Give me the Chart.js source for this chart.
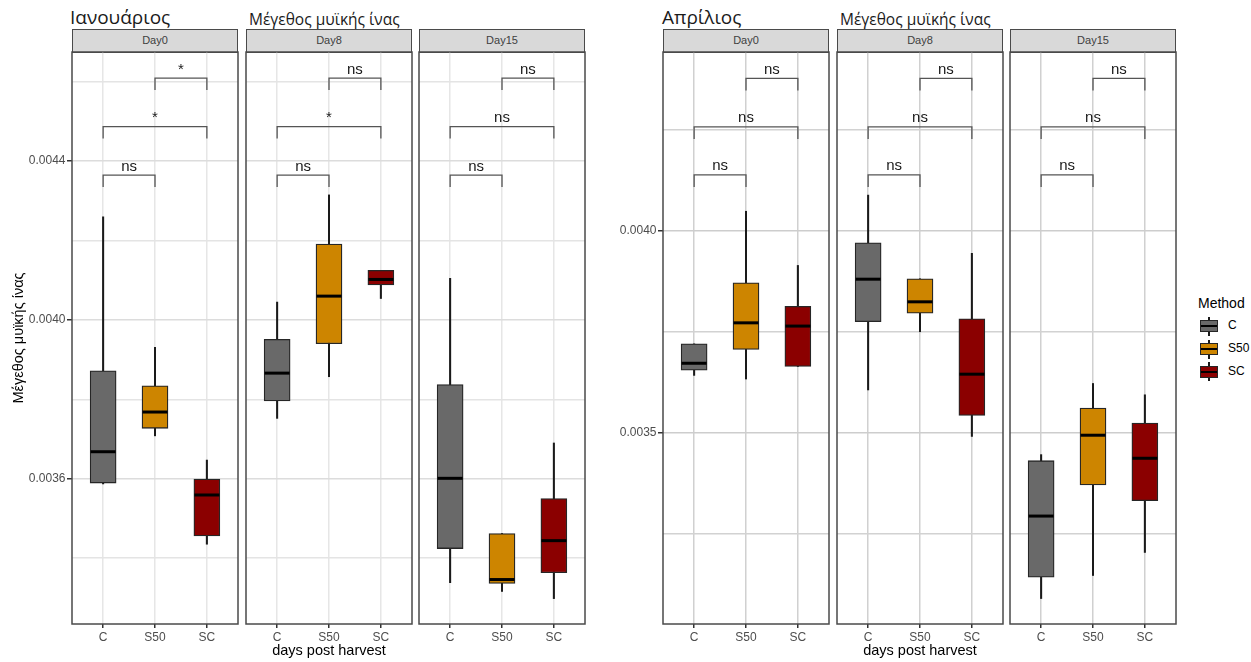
<!DOCTYPE html>
<html>
<head>
<meta charset="utf-8">
<script src="https://cdn.jsdelivr.net/npm/chart.js@4.4.1/dist/chart.umd.min.js"></script>
<style>
  html, body { margin: 0; padding: 0; background: #fff; }
  #wrap { position: relative; width: 1251px; height: 662px; overflow: hidden; background: #fff; }
  .abs { position: absolute; white-space: nowrap; }
  .month { font-family: 'Open Sans', 'Noto Sans', sans-serif; font-size: 19px; color: #1a1a1a; line-height: normal; }
  .sub { font-family: 'Open Sans', 'Noto Sans', sans-serif; font-size: 15.5px; color: #1a1a1a; line-height: normal; }
  .strip { background: #d9d9d9; border: 1.5px solid #4a4a4a; box-sizing: border-box; height: 24px; width: 166px;
           font-family: 'Liberation Sans', Arial, sans-serif; font-weight: normal; font-size: 11px; color: #404040; text-align: center; line-height: 21px; }
  canvas { position: absolute; }
  .legTitle { font-family: 'Liberation Sans', Arial, sans-serif; font-size: 14px; line-height: 14px; color: #000; }
  .legLab { font-family: 'Liberation Sans', Arial, sans-serif; font-size: 12px; line-height: 12px; color: #000; }
  .keyWhisk { position: absolute; width: 1.2px; background: #1a1a1a; }
  .keyBox { position: absolute; width: 18px; height: 12px; box-sizing: border-box; border: 1.3px solid #262626; }
  .keyMed { position: absolute; left: 0; right: 0; top: 4px; height: 2px; background: #000; }
</style>
</head>
<body>
<div id="wrap"></div>
<script>
// Treatment methods and sampling days
const methods = ['C', 'S50', 'SC'];
const days = ['Day0', 'Day8', 'Day15'];
const methodColors = ['#696969', '#cd8500', '#8b0000'];

// January: box statistics per day (rows) and method (columns)
const janLow    = [[0.003587, 0.003708, 0.003435], [0.003752, 0.003857, 0.004054], [0.003338, 0.003316, 0.003298]];
const janQ1     = [[0.003589, 0.003727, 0.003456], [0.003796, 0.003940, 0.004088], [0.003424, 0.003336, 0.003363]];
const janMedian = [[0.003668, 0.003768, 0.003559], [0.003866, 0.004060, 0.004102], [0.003601, 0.003346, 0.003444]];
const janQ3     = [[0.003872, 0.003834, 0.003599], [0.003951, 0.004191, 0.004125], [0.003837, 0.003462, 0.003550]];
const janHigh   = [[0.004260, 0.003931, 0.003647], [0.004045, 0.004315, 0.004125], [0.004105, 0.003462, 0.003690]];

// April: box statistics per day (rows) and method (columns)
const aprLow    = [[0.003642, 0.003633, 0.003664], [0.003606, 0.003750, 0.003491], [0.003090, 0.003147, 0.003204]];
const aprQ1     = [[0.003655, 0.003706, 0.003664], [0.003775, 0.003796, 0.003543], [0.003143, 0.003371, 0.003332]];
const aprMedian = [[0.003672, 0.003772, 0.003764], [0.003880, 0.003824, 0.003645], [0.003294, 0.003494, 0.003437]];
const aprQ3     = [[0.003720, 0.003871, 0.003813], [0.003970, 0.003881, 0.003782], [0.003431, 0.003561, 0.003524]];
const aprHigh   = [[0.003720, 0.004048, 0.003914], [0.004088, 0.003881, 0.003944], [0.003446, 0.003622, 0.003594]];

// Pairwise comparisons (method positions) and their significance labels
const bracketPairs = [[1, 2], [1, 3], [2, 3]];
const janSignif = [['ns', '*', '*'], ['ns', '*', 'ns'], ['ns', 'ns', 'ns']];
const aprSignif = [['ns', 'ns', 'ns'], ['ns', 'ns', 'ns'], ['ns', 'ns', 'ns']];
const janBracketY = [0.004365, 0.004487, 0.004609];
const aprBracketY = [0.004138, 0.004257, 0.004377];
const janBracketTip = 0.00003;
const aprBracketTip = 0.00003;

// Value axes
const janYRange = [0.003234, 0.004675];
const aprYRange = [0.003027, 0.004442];
const janYTicks = [0.0034, 0.0036, 0.0038, 0.0040, 0.0042, 0.0044, 0.0046];
const janYMajor = [0.0036, 0.0040, 0.0044];
const aprYTicks = [0.00325, 0.0035, 0.00375, 0.0040, 0.00425];
const aprYMajor = [0.0035, 0.0040];

const yTitle = 'Μέγεθος μυϊκής ίνας';
const xTitle = 'days post harvest';

const FONT = "'Liberation Sans', Arial, sans-serif";
const wrap = document.getElementById('wrap');

function addText(cls, text, left, top) {
  const d = document.createElement('div');
  d.className = 'abs ' + cls;
  d.textContent = text;
  d.style.left = left + 'px';
  d.style.top = top + 'px';
  wrap.appendChild(d);
  return d;
}

const months = [
  { name: 'Ιανουάριος', left: [72, 246, 419], titleX: 70, subX: 249,
    low: janLow, q1: janQ1, med: janMedian, q3: janQ3, high: janHigh,
    signif: janSignif, bracketY: janBracketY, tip: janBracketTip,
    range: janYRange, ticks: janYTicks, major: janYMajor, yTitle: true,
    hGrid: ['#dcdcdc', '#e4e4e4'], vGrid: '#e6e6e6' },
  { name: 'Απρίλιος', left: [663, 837, 1010], titleX: 662, subX: 840,
    low: aprLow, q1: aprQ1, med: aprMedian, q3: aprQ3, high: aprHigh,
    signif: aprSignif, bracketY: aprBracketY, tip: aprBracketTip,
    range: aprYRange, ticks: aprYTicks, major: aprYMajor, yTitle: false,
    hGrid: ['#cdcdcd', '#d2d2d2'], vGrid: '#d0d0d0' }
];

const PANEL_TOP = 52, FACET_W = 166, PAD = 4, X_AXIS_H = 38;

function overlay(m, f) {
  return {
    id: 'boxOverlay',
    afterDatasetsDraw(chart) {
      const { ctx, scales: { x, y } } = chart;
      ctx.save();
      // median lines
      ctx.strokeStyle = '#000';
      ctx.lineWidth = 3;
      m.med[f].forEach((v, i) => {
        const px = x.getPixelForValue(i + 1), py = y.getPixelForValue(v);
        ctx.beginPath();
        ctx.moveTo(px - 12.5, py);
        ctx.lineTo(px + 12.5, py);
        ctx.stroke();
      });
      // significance brackets
      ctx.strokeStyle = '#555';
      ctx.lineWidth = 1.3;
      ctx.fillStyle = '#1a1a1a';
      ctx.font = '15px ' + FONT;
      ctx.textAlign = 'center';
      ctx.textBaseline = 'alphabetic';
      bracketPairs.forEach((p, k) => {
        const x1 = x.getPixelForValue(p[0]), x2 = x.getPixelForValue(p[1]);
        const yb = y.getPixelForValue(m.bracketY[k]);
        const yt = y.getPixelForValue(m.bracketY[k] - m.tip);
        ctx.beginPath();
        ctx.moveTo(x1, yt);
        ctx.lineTo(x1, yb);
        ctx.lineTo(x2, yb);
        ctx.lineTo(x2, yt);
        ctx.stroke();
        ctx.fillText(m.signif[f][k], (x1 + x2) / 2, yb - 4.5);
      });
      ctx.restore();
    },
    afterDraw(chart) {
      const { ctx, chartArea: a } = chart;
      ctx.save();
      ctx.strokeStyle = '#4a4a4a';
      ctx.lineWidth = 1.5;
      ctx.strokeRect(a.left, a.top, a.right - a.left, a.bottom - a.top);
      ctx.restore();
    }
  };
}

months.forEach((m) => {
  addText('month', m.name, m.titleX, 4);
  addText('sub', yTitle, m.subX, 8);
  const isMajor = (v) => m.major.some(t => Math.abs(t - v) < 1e-9);

  days.forEach((day, f) => {
    addText('strip', day, m.left[f], 29);

    const padL = f === 0 ? 72 : PAD;
    const cv = document.createElement('canvas');
    const w = FACET_W + padL + PAD;
    const h = 662 - (PANEL_TOP - PAD);
    cv.width = w; cv.height = h;
    cv.style.left = (m.left[f] - padL) + 'px';
    cv.style.top = (PANEL_TOP - PAD) + 'px';
    cv.style.width = w + 'px'; cv.style.height = h + 'px';
    wrap.appendChild(cv);

    new Chart(cv, {
      type: 'bar',
      data: {
        datasets: [
          {
            label: 'box',
            data: methods.map((_, i) => ({ x: i + 1, y: [m.q1[f][i], m.q3[f][i]] })),
            backgroundColor: methodColors,
            borderColor: '#262626',
            borderWidth: 1.3,
            borderSkipped: false,
            barThickness: 26,
            grouped: false,
            order: 0
          },
          {
            label: 'whisker',
            data: methods.map((_, i) => ({ x: i + 1, y: [m.low[f][i], m.high[f][i]] })),
            backgroundColor: '#1a1a1a',
            borderWidth: 0,
            barThickness: 1.4,
            grouped: false,
            order: 1
          }
        ]
      },
      options: {
        responsive: false,
        maintainAspectRatio: false,
        animation: false,
        events: [],
        layout: { autoPadding: false, padding: { top: PAD, right: PAD, left: 0, bottom: 0 } },
        plugins: { legend: { display: false }, tooltip: { enabled: false } },
        scales: {
          x: {
            type: 'linear',
            offset: false,
            min: 0.4, max: 3.6,
            afterBuildTicks: (s) => { s.ticks = methods.map((_, i) => ({ value: i + 1 })); },
            afterFit: (s) => { s.height = X_AXIS_H; s.paddingLeft = 0; s.paddingRight = 0; },
            ticks: {
              callback: (v) => methods[Math.round(v) - 1],
              color: '#4d4d4d', font: { family: FONT, size: 12 },
              padding: 2, autoSkip: false, maxRotation: 0
            },
            grid: { offset: false, color: m.vGrid, lineWidth: 1.5, drawTicks: true, tickLength: 4, tickColor: '#333' },
            border: { display: false },
            title: f === 1
              ? { display: true, text: xTitle, color: '#000', font: { family: FONT, size: 14.5 }, padding: { top: 0, bottom: 2 } }
              : { display: false }
          },
          y: {
            type: 'linear',
            min: m.range[0], max: m.range[1],
            afterBuildTicks: (s) => { s.ticks = m.ticks.map(v => ({ value: v })); },
            afterFit: (s) => { s.width = padL; s.paddingTop = 0; s.paddingBottom = 0; },
            ticks: {
              display: f === 0,
              callback: (v) => isMajor(v) ? v.toFixed(4) : '',
              color: '#4d4d4d', font: { family: FONT, size: 12 },
              padding: 1.5, autoSkip: false
            },
            grid: {
              color: (c) => isMajor(c.tick.value) ? m.hGrid[0] : m.hGrid[1],
              lineWidth: 1.5,
              drawTicks: f === 0,
              tickLength: 5,
              tickColor: (c) => isMajor(c.tick.value) ? '#333' : 'rgba(0,0,0,0)'
            },
            border: { display: false },
            title: (f === 0 && m.yTitle)
              ? { display: true, text: yTitle, color: '#000', font: { family: FONT, size: 14.5 }, padding: { top: 10, bottom: 0 } }
              : { display: false }
          }
        }
      },
      plugins: [overlay(m, f)]
    });
  });
});

// Legend
addText('legTitle', 'Method', 1198, 296);
const keyCentres = [326, 349, 371.5];
methods.forEach((name, i) => {
  const cy = keyCentres[i];
  const wk = document.createElement('div');
  wk.className = 'keyWhisk';
  wk.style.left = '1208.4px';
  wk.style.top = (cy - 9.5) + 'px';
  wk.style.height = '19px';
  wrap.appendChild(wk);
  const bx = document.createElement('div');
  bx.className = 'keyBox';
  bx.style.left = '1200px';
  bx.style.top = (cy - 6) + 'px';
  bx.style.background = methodColors[i];
  const md = document.createElement('div');
  md.className = 'keyMed';
  bx.appendChild(md);
  wrap.appendChild(bx);
  addText('legLab', name, 1228, cy - 6.8);
});
</script>
</body>
</html>
